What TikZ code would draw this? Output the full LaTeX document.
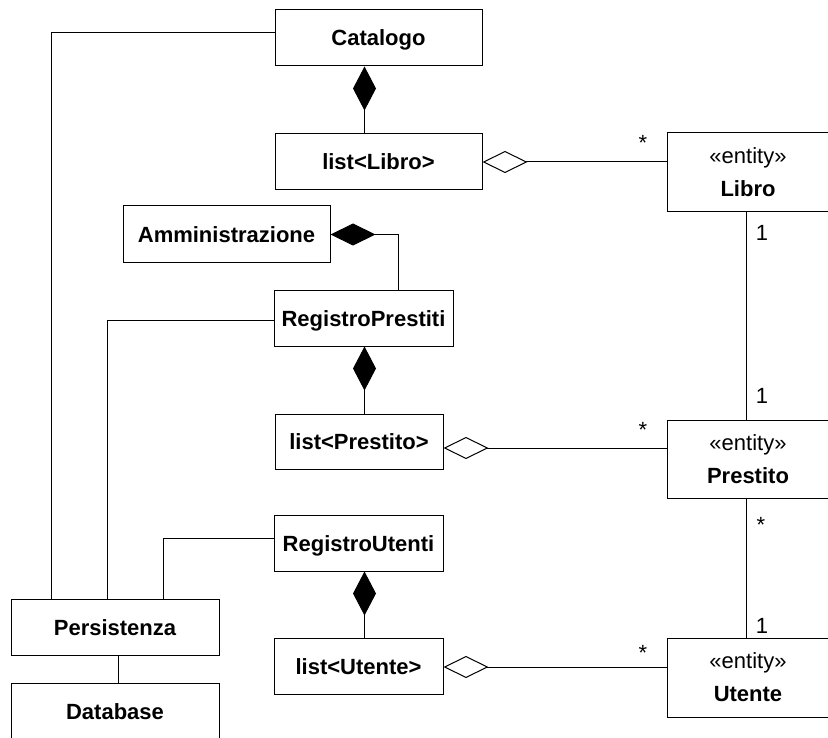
\documentclass[tikz,border=0pt]{standalone}
\usepackage{fontspec}
\setmainfont{Liberation Sans}
\usetikzlibrary{arrows.meta}
\begin{document}
\begin{tikzpicture}[x=1pt,y=-1pt,
  boxbase/.style={draw, line width=1pt, inner sep=0pt, align=center},
  cls/.style={boxbase, text height=16pt, text depth=0pt,
    font=\fontsize{22}{33}\selectfont\bfseries},
  ent/.style={boxbase, font=\fontsize{22}{33}\selectfont,
    minimum width=162pt, minimum height=79pt},
  link/.style={line width=1pt},
  comp/.style={link, {Diamond[length=44pt,width=23pt]}-},
  comph/.style={link, {Diamond[length=45pt,width=22pt]}-},
  aggr/.style={link, {Diamond[open,length=45pt,width=22pt]}-},
  mult/.style={anchor=base, inner sep=0pt, font=\fontsize{22}{26}\selectfont}]
\useasboundingbox (0,0) rectangle (828,738);

% classes
\node[cls, minimum width=207pt, minimum height=56pt] (catalogo) at (378.5,38) {Catalogo};
\node[cls, minimum width=207pt, minimum height=56pt] (listlibro) at (378.5,162) {list<Libro>};
\node[cls, minimum width=207pt, minimum height=57pt] (amministrazione) at (226.5,234.5) {Amministrazione};
\node[cls, minimum width=179pt, minimum height=55pt] (registroprestiti) at (363.5,318.5) {RegistroPrestiti};
\node[cls, minimum width=168pt, minimum height=55pt] (listprestito) at (359,441.5) {list<Prestito>};
\node[cls, minimum width=169pt, minimum height=56pt] (registroutenti) at (358.5,543) {RegistroUtenti};
\node[cls, minimum width=169pt, minimum height=56pt] (listutente) at (358.5,666) {list<Utente>};
\node[cls, minimum width=208pt, minimum height=56pt] (persistenza) at (115,627) {Persistenza};
\node[cls, minimum width=208pt, minimum height=56pt] (database) at (115,711) {Database};

% entities
\node[ent] (libro) at (748,172.5) {«entity»\\\textbf{Libro}};
\node[ent, minimum height=78pt] (prestito) at (748,459) {«entity»\\\textbf{Prestito}};
\node[ent] (utente) at (748,677.5) {«entity»\\\textbf{Utente}};

% helper columns and rows
\coordinate (cx) at (364.5,0);
\coordinate (ax) at (398,0);
\coordinate (ex) at (746,0);
\coordinate (p1) at (51,0);
\coordinate (p2) at (107,0);
\coordinate (p3) at (163,0);
\coordinate (db) at (118,0);
\coordinate (yl) at (0,162);
\coordinate (yp) at (0,448);
\coordinate (yu) at (0,667);

% compositions
\draw[comp] (catalogo.south -| cx) -- (listlibro.north -| cx);
\draw[comp] (registroprestiti.south -| cx) -- (listprestito.north -| cx);
\draw[comp] (registroutenti.south -| cx) -- (listutente.north -| cx);
\draw[comph] (amministrazione.east) -| (registroprestiti.north -| ax);

% aggregations
\draw[aggr] (listlibro.east |- yl) -- (libro.west |- yl);
\draw[aggr] (listprestito.east |- yp) -- (prestito.west |- yp);
\draw[aggr] (listutente.east |- yu) -- (utente.west |- yu);

% associations between entities
\draw[link] (libro.south -| ex) -- (prestito.north -| ex);
\draw[link] (prestito.south -| ex) -- (utente.north -| ex);

% persistence links
\draw[link] ([yshift=5pt]catalogo.west) -| (persistenza.north -| p1);
\draw[link] ([yshift=-2.5pt]registroprestiti.west) -| (persistenza.north -| p2);
\draw[link] ([yshift=5pt]registroutenti.west) -| (persistenza.north -| p3);
\draw[link] (persistenza.south -| db) -- (database.north -| db);

% multiplicities
\node[mult] (m1) at (643,151) {*};
\node[mult] (m2) at (762,241) {1};
\node[mult] (m3) at (762,403) {1};
\node[mult] (m4) at (643,437.5) {*};
\node[mult] (m5) at (761,532.5) {*};
\node[mult] (m6) at (762,633) {1};
\node[mult] (m7) at (643,660.5) {*};
\end{tikzpicture}
\end{document}
